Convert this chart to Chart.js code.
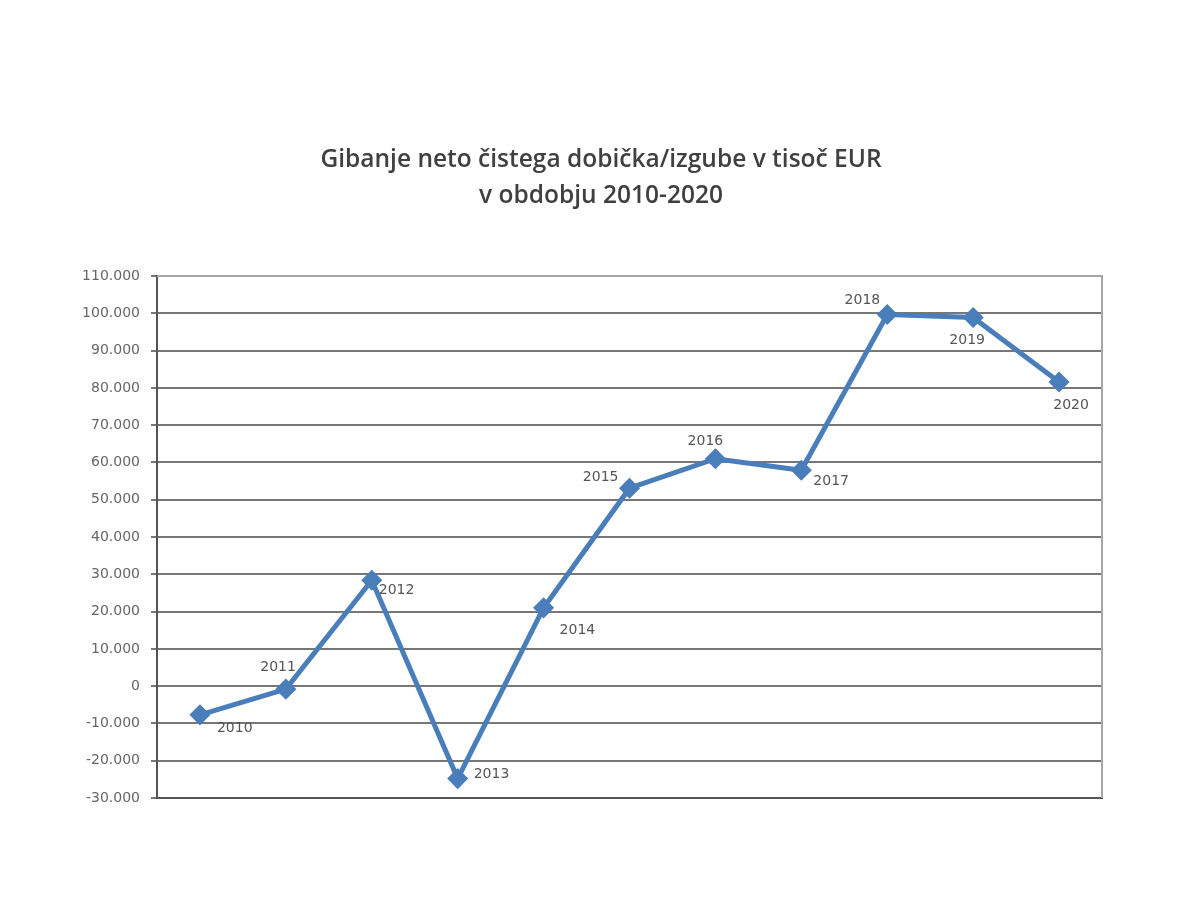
<!DOCTYPE html>
<html>
<head>
<meta charset="utf-8">
<script src="https://cdn.jsdelivr.net/npm/chart.js@4"></script>
<style>
  html, body { margin: 0; padding: 0; background: #fff; }
  #wrap { width: 1200px; height: 916px; }
</style>
</head>
<body>
<div id="wrap"><canvas id="myChart"></canvas></div>
<script>
// --------------------
// Data
// --------------------
const years = ["2010", "2011", "2012", "2013", "2014", "2015", "2016", "2017", "2018", "2019", "2020"];
const profit = [-7700, -800, 28400, -24800, 21000, 53100, 61000, 57900, 99700, 98900, 81600];

const titleLines = ["Gibanje neto čistega dobička/izgube v tisoč EUR", "v obdobju 2010-2020"];

// label placement around each point (dx, dy, align)
const labelPos = [
  [17, 14, "left"], [10, -22, "right"], [7, 10, "left"], [16, -4, "left"],
  [16, 23, "left"], [-11, -11, "right"], [-10, -17, "center"], [12, 11, "left"],
  [-7, -14, "right"], [-6, 23, "center"], [12, 23, "center"]
];

const lineColor = "#4A7EBB";
const labelFont = "'DejaVu Sans', sans-serif";

// --------------------
// Plugins
// --------------------
const plotBorder = {
  id: "plotBorder",
  beforeDatasetsDraw(chart) {
    const { ctx, chartArea: a } = chart;
    ctx.save();
    ctx.strokeStyle = "#a6a6a6";
    ctx.lineWidth = 2;
    ctx.beginPath();
    ctx.moveTo(a.left, a.top);
    ctx.lineTo(a.right, a.top);
    ctx.lineTo(a.right, a.bottom);
    ctx.stroke();
    ctx.restore();
  }
};

const pointLabels = {
  id: "pointLabels",
  afterDatasetsDraw(chart) {
    const { ctx } = chart;
    const meta = chart.getDatasetMeta(0);
    ctx.save();
    ctx.font = "14px " + labelFont;
    ctx.fillStyle = "#555555";
    ctx.textBaseline = "middle";
    meta.data.forEach((pt, i) => {
      const [dx, dy, align] = labelPos[i];
      ctx.textAlign = align;
      ctx.fillText(years[i], pt.x + dx, pt.y + dy);
    });
    ctx.restore();
  }
};

// --------------------
// Chart
// --------------------
const ctx = document.getElementById("myChart").getContext("2d");

new Chart(ctx, {
  type: "line",
  data: {
    labels: years,
    datasets: [{
      data: profit,
      borderColor: lineColor,
      backgroundColor: lineColor,
      borderWidth: 5,
      pointStyle: "rectRot",
      pointRadius: 7,
      pointHoverRadius: 7,
      tension: 0
    }]
  },
  options: {
    responsive: true,
    maintainAspectRatio: false,
    animation: false,
    layout: { padding: { left: 40, right: 38, bottom: 118, top: 0 } },
    scales: {
      x: {
        offset: true,
        grid: { display: false, drawTicks: false },
        border: { display: true, color: "#555", width: 2 },
        ticks: { display: false }
      },
      y: {
        min: -30000,
        max: 110000,
        afterFit(scale) { scale.width = 117; },
        ticks: {
          stepSize: 10000,
          padding: 11,
          color: "#666666",
          font: { family: labelFont, size: 14 },
          callback: v => v.toLocaleString("de-DE")
        },
        grid: { color: "#777777", lineWidth: 2, tickLength: 6 },
        border: { display: true, color: "#555", width: 2 }
      },
      // empty spacer on the right so the title stays centred on the page
      yRight: {
        position: "right",
        min: -30000,
        max: 110000,
        afterFit(scale) { scale.width = 60; },
        ticks: { display: false },
        grid: { display: false, drawTicks: false },
        border: { display: false }
      }
    },
    plugins: {
      legend: { display: false },
      tooltip: { enabled: false },
      title: {
        display: true,
        text: titleLines,
        color: "#404040",
        font: { family: "'Open Sans', sans-serif", size: 24.5, weight: "600", lineHeight: 1.47 },
        padding: { top: 142, bottom: 62 }
      }
    }
  },
  plugins: [plotBorder, pointLabels]
});
</script>
</body>
</html>
